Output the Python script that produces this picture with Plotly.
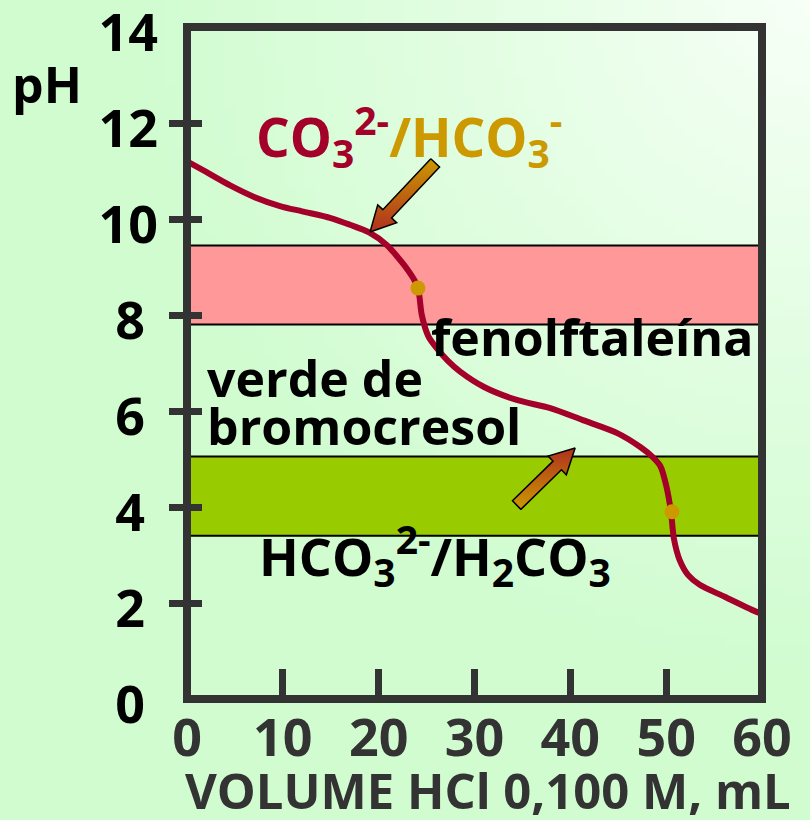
import base64
import math
import struct
import zlib

import plotly.graph_objects as go

# ---------------------------------------------------------------- data
VOLUME_ML = [0, 2, 4.5, 7, 9.7, 12, 15, 17, 19, 20.9, 21.8, 23.0, 23.8, 24.2,
             24.5, 25.2, 26.1, 27.2, 28.5, 31, 34.4, 37.9, 41.3, 44.9, 47.3,
             48.6, 49.4, 50.0, 50.5, 50.8, 51.4, 52.3, 53.5, 56.1, 59.5, 60]
PH = [11.2, 10.98, 10.70, 10.46, 10.27, 10.16, 10.02, 9.88, 9.72, 9.45, 9.25,
      8.95, 8.70, 8.45, 8.0, 7.55, 7.30, 7.05, 6.82, 6.50, 6.23, 6.06, 5.81,
      5.54, 5.25, 5.04, 4.85, 4.45, 3.9, 3.35, 2.9, 2.58, 2.38, 2.13, 1.81,
      1.78]

EQUIV_ML = [24.1, 50.6]
EQUIV_PH = [8.56, 3.9]

PHENOL_RANGE = [7.8, 9.45]        # fenolftaleína
BROMO_RANGE = [3.4, 5.05]         # verde de bromocresol

X_TICKS = [0, 10, 20, 30, 40, 50, 60]
Y_TICKS = [0, 2, 4, 6, 8, 10, 12, 14]
X_MINOR = [10, 20, 30, 40, 50]
Y_MINOR = [2, 4, 6, 8, 10, 12]

# arrows: (tail, tip) in (mL, pH)
ARROWS = [((25.9, 11.17), (19.1, 9.73)),
          ((34.4, 4.04), (40.5, 5.23))]

# ---------------------------------------------------------------- geometry
W, H = 810, 820
ML, MR, MT, MB = 187, 48, 27, 121
PW, PHT = W - ML - MR, H - MT - MB
X_RANGE = [0, 60]
Y_RANGE = [0, 14]

FONT = "Open Sans"
DARK = "#333333"
CURVE = "#a3002a"
GOLD = "#cc9900"


def to_px(x, y):
    px = ML + (x - X_RANGE[0]) / (X_RANGE[1] - X_RANGE[0]) * PW
    py = MT + (Y_RANGE[1] - y) / (Y_RANGE[1] - Y_RANGE[0]) * PHT
    return px, py


def to_data(px, py):
    x = X_RANGE[0] + (px - ML) / PW * (X_RANGE[1] - X_RANGE[0])
    y = Y_RANGE[1] - (py - MT) / PHT * (Y_RANGE[1] - Y_RANGE[0])
    return x, y


def block_arrow(tail, tip, shaft=6.0, head=13.0, head_len=25.0):
    tx, ty = to_px(*tail)
    hx, hy = to_px(*tip)
    d = math.hypot(hx - tx, hy - ty)
    ux, uy = (hx - tx) / d, (hy - ty) / d
    nx, ny = -uy, ux
    bx, by = hx - ux * head_len, hy - uy * head_len
    pts = [(tx + nx * shaft, ty + ny * shaft),
           (bx + nx * shaft, by + ny * shaft),
           (bx + nx * head, by + ny * head),
           (hx, hy),
           (bx - nx * head, by - ny * head),
           (bx - nx * shaft, by - ny * shaft),
           (tx - nx * shaft, ty - ny * shaft)]
    pts.append(pts[0])
    data = [to_data(*p) for p in pts]
    return [p[0] for p in data], [p[1] for p in data]


def gradient_png(w, h):
    """Soft background: pale near the top-right corner, green elsewhere."""
    c0 = (248, 255, 248)
    c1 = (208, 252, 208)
    rows = []
    for j in range(h):
        row = bytearray([0])
        for i in range(w):
            px = (i + 0.5) / w * W
            py = (j + 0.5) / h * H
            dist = math.hypot(W - px, py)
            t = min(1.0, dist / 680.0) ** 0.9
            row += bytes(int(round(c0[k] + (c1[k] - c0[k]) * t)) for k in range(3))
        rows.append(bytes(row))
    raw = b"".join(rows)

    def chunk(tag, payload):
        c = struct.pack(">I", len(payload)) + tag + payload
        return c + struct.pack(">I", zlib.crc32(tag + payload) & 0xFFFFFFFF)

    png = b"\x89PNG\r\n\x1a\n"
    png += chunk(b"IHDR", struct.pack(">IIBBBBB", w, h, 8, 2, 0, 0, 0))
    png += chunk(b"IDAT", zlib.compress(raw, 9))
    png += chunk(b"IEND", b"")
    return "data:image/png;base64," + base64.b64encode(png).decode()


fig = go.Figure()

# titration curve
fig.add_trace(go.Scatter(
    x=VOLUME_ML, y=PH, mode="lines",
    line=dict(color=CURVE, width=6, shape="spline", smoothing=0.8),
    hoverinfo="skip", showlegend=False))

# pointer arrows
for tail, tip in ARROWS:
    ax, ay = block_arrow(tail, tip)
    top_red = tip[1] > tail[1]
    fig.add_trace(go.Scatter(
        x=ax, y=ay, mode="lines", fill="toself",
        line=dict(color="#000000", width=1.5),
        fillgradient=dict(
            type="vertical",
            colorscale=[[0, "#b0301f" if not top_red else GOLD],
                        [1, GOLD if not top_red else "#b0301f"]]),
        hoverinfo="skip", showlegend=False))

# equivalence points
fig.add_trace(go.Scatter(
    x=EQUIV_ML, y=EQUIV_PH, mode="markers",
    marker=dict(color=GOLD, size=15, line=dict(width=0)),
    hoverinfo="skip", showlegend=False))

# empty traces so the tick-only overlay axes get drawn
for xa, ya in (("x2", "y"), ("x", "y2"), ("x", "y3")):
    fig.add_trace(go.Scatter(x=[None], y=[None], xaxis=xa, yaxis=ya,
                             mode="markers", hoverinfo="skip",
                             showlegend=False))

# indicator ranges
for rng, col in ((PHENOL_RANGE, "#ff9999"), (BROMO_RANGE, "#99cc00")):
    fig.add_shape(type="rect", xref="x", yref="y",
                  x0=X_RANGE[0], x1=X_RANGE[1], y0=rng[0], y1=rng[1],
                  fillcolor=col, line=dict(color="#000000", width=2),
                  layer="below")

# frame
fig.add_shape(type="rect", xref="x domain", yref="y domain",
              x0=0, x1=1, y0=0, y1=1,
              line=dict(color=DARK, width=8), layer="above")

big = dict(family=FONT, size=50, color="#000000", weight="bold")


def sub(t):
    return f"<sub><span style='font-size:39px'>{t}</span></sub>"


def sup(t):
    return f"<sup><span style='font-size:39px'>{t}</span></sup>"


def paper_x(px):
    return (px - ML) / PW


def paper_y(py):
    return 1.0 - (py - MT) / PHT


annotations = [
    dict(text="pH", xref="paper", yref="paper", x=paper_x(47), y=paper_y(84),
         xanchor="center", yanchor="middle",
         font=dict(family=FONT, size=50, color="#000000", weight="bold")),
    dict(text="VOLUME HCl 0,100 M, mL", xref="paper", yref="paper",
         x=paper_x(488), y=paper_y(790), xanchor="center", yanchor="middle",
         font=dict(family=FONT, size=49, color=DARK, weight="bold")),
    dict(text=(f"<span style='color:{CURVE}'>CO{sub('3')}{sup('2-')}</span>"
               f"<span style='color:{GOLD}'>/HCO{sub('3')}{sup('-')}</span>"),
         x=7.0, y=11.72, xanchor="left", yanchor="middle",
         font=dict(family=FONT, size=53, color=CURVE, weight="bold")),
    dict(text="fenolftaleína", x=25.3, y=7.55, xanchor="left", yanchor="middle",
         font=big, height=50),
    dict(text="verde de", x=1.9, y=6.68, xanchor="left", yanchor="middle",
         font=big, height=46),
    dict(text="bromocresol", x=1.9, y=5.68, xanchor="left", yanchor="middle",
         font=big, height=46),
    dict(text=f"HCO{sub('3')}{sup('2-')}/H{sub('2')}CO{sub('3')}",
         x=7.3, y=3.0, xanchor="left", yanchor="middle",
         font=dict(family=FONT, size=52, color="#000000", weight="bold")),
]
for a in annotations:
    a.setdefault("xref", "x")
    a.setdefault("yref", "y")
    a["showarrow"] = False

tick_font = dict(family=FONT, size=52, color="#000000", weight="bold")
y_text = [f"{v}" if v >= 10 else f"{v}\u2005" for v in Y_TICKS]

common = dict(showgrid=False, zeroline=False, showline=False,
              fixedrange=True, automargin=False)

fig.update_layout(
    width=W, height=H,
    margin=dict(l=ML, r=MR, t=MT, b=MB, pad=0, autoexpand=False),
    paper_bgcolor="#d0fcd0",
    plot_bgcolor="rgba(0,0,0,0)",
    images=[dict(source=gradient_png(81, 82), xref="paper", yref="paper",
                 x=-ML / PW, y=1 + MT / PHT, sizex=W / PW, sizey=H / PHT,
                 xanchor="left", yanchor="top", sizing="stretch",
                 layer="below")],
    annotations=annotations,
    xaxis=dict(range=X_RANGE, tickvals=X_TICKS, ticktext=[str(v) for v in X_TICKS],
               ticks="", tickfont=dict(family=FONT, size=52, color=DARK,
                                        weight="bold"),
               ticklabelstandoff=4, ticklabeloverflow="allow", **common),
    xaxis2=dict(range=X_RANGE, overlaying="x", anchor="y", side="bottom",
                tickvals=X_MINOR, ticks="inside", ticklen=30, tickwidth=7,
                tickcolor=DARK, showticklabels=False, **common),
    yaxis=dict(range=Y_RANGE, tickvals=Y_TICKS, ticktext=y_text, ticks="",
               tickfont=tick_font, ticklabelstandoff=28, ticklabelshift=6,
               ticklabeloverflow="allow", **common),
    yaxis2=dict(range=Y_RANGE, overlaying="y", anchor="x", side="left",
                tickvals=Y_MINOR, ticks="outside", ticklen=17, tickwidth=7,
                tickcolor=DARK, showticklabels=False, **common),
    yaxis3=dict(range=Y_RANGE, overlaying="y", anchor="x", side="left",
                tickvals=Y_MINOR, ticks="inside", ticklen=15, tickwidth=7,
                tickcolor=DARK, showticklabels=False, **common),
)

fig.write_html("out.html")
